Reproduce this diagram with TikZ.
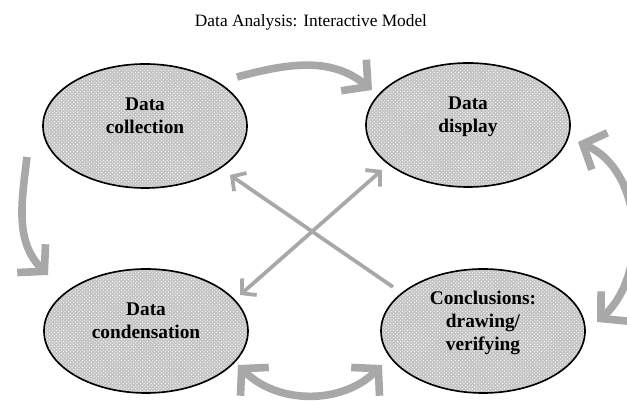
\documentclass[tikz,border=0pt]{standalone}
\usepackage{fontspec}
\setmainfont{Liberation Serif}
\usepackage{xcolor}
\usepackage{tikz}
\usetikzlibrary{shapes.geometric,arrows.meta,patterns}
\definecolor{bubblegray}{RGB}{196,196,196}
\definecolor{arrowgray}{RGB}{168,168,168}

\begin{document}
\begin{tikzpicture}[x=0.03cm,y=0.03cm,
  bubble/.style={ellipse,draw=black,line width=1.4pt,
    preaction={fill=bubblegray},pattern=crosshatch dots,pattern color=white,
    minimum width=6.12cm,minimum height=3.72cm,inner sep=0pt,text depth=17pt,
    align=center,font=\fontsize{16.5}{19.5}\selectfont\bfseries},
  bigarrow/.style={draw=arrowgray,line width=6.5pt,
    >={Straight Barb[length=0.55cm,width=1.2cm]}},
  thinarrow/.style={draw=arrowgray,line width=3.2pt,
    >={Straight Barb[length=0.3cm,width=0.66cm]}}]
% Fix the page size
\clip (0,0) rectangle (627,401);
% Title
\node[font=\fontsize{14.8}{17}\selectfont] (title) at (311,379) {Data Analysis: Interactive Model};
% Draw the four stages
\node[bubble] (col) at (145,275) {Data\\collection};
\node[bubble] (disp) at (468,276) {Data\\display};
\node[bubble] (cond) at (146,70) {Data\\condensation};
\node[bubble] (conc) at (483,70) {Conclusions:\\drawing/\\verifying};
% Draw the curved arrows round the outside
\draw[bigarrow,->] ([shift={(92,49)}]col.center) to[out=15,in=141] ([shift={(-96,35)}]disp.center);
\draw[bigarrow,->] ([shift={(-118,-31)}]col.center) to[out=-97,in=135] ([shift={(-98,56)}]cond.center);
\draw[bigarrow,<->] ([shift={(110,-17)}]disp.center) to[out=-23,in=42] ([shift={(114,9)}]conc.center);
\draw[bigarrow,<->] ([shift={(92,-34)}]cond.center) to[out=-45,in=-135] ([shift={(-101,-34)}]conc.center);
% Draw the crossing arrows
\draw[thinarrow,->] ([shift={(-90,44)}]conc.center) -- ([shift={(85,-49)}]col.center);
\draw[thinarrow,<->] ([shift={(94,36)}]cond.center) -- ([shift={(-86,-45)}]disp.center);
\end{tikzpicture}
\end{document}
